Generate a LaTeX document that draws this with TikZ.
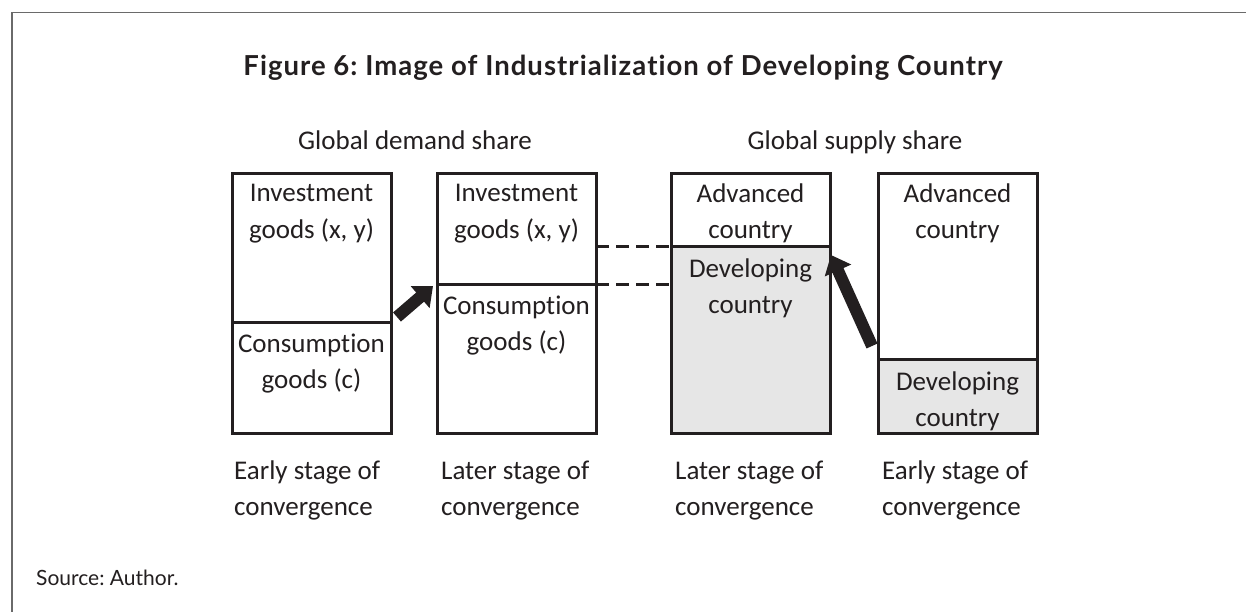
\documentclass[tikz,border=0pt]{standalone}
\usepackage{fontspec}
\setmainfont{Carlito}[Ligatures=NoCommon]
\newfontfamily\latofont{Lato}[Ligatures=NoCommon]
\frenchspacing
\usetikzlibrary{arrows.meta,calc}
\definecolor{ink}{HTML}{231F20}
\definecolor{shade}{HTML}{E6E6E6}
\definecolor{framegray}{HTML}{6A6A6A}
\begin{document}
\begin{tikzpicture}[x=1pt,y=-1pt,
  sect/.style={draw=ink,line width=3pt,rectangle,inner sep=0pt,outer sep=0pt,anchor=north west,minimum width=159pt},
  lbl/.style={anchor=base,align=center,inner sep=0pt,font=\fontsize{27}{36}\selectfont,text=ink},
  head/.style={anchor=base,inner sep=0pt,font=\fontsize{27}{36}\selectfont,text=ink},
  stage/.style={anchor=base west,align=left,inner sep=0pt,font=\fontsize{27}{36}\selectfont,text=ink},
  dashlink/.style={draw=ink,line width=3pt,dash pattern=on 13pt off 7pt},
  blockarrow/.style={draw=ink,line width=12pt,-{Triangle[length=17pt,width=28pt]}},
]
\useasboundingbox (0,0) rectangle (1246,612);
\fill[white] (0,0) rectangle (1246,612);
\draw[framegray,line width=1.6pt] (12,612) -- (12,12.5) -- (1246,12.5);

\node[anchor=base,inner sep=0pt,font=\latofont\bfseries\fontsize{27.5}{30}\selectfont\addfontfeature{LetterSpace=3.8},text=ink] (title) at (623,76) {Figure 6: Image of Industrialization of Developing Country};

\node[head] (dem) at (415,150) {Global demand share};
\node[head] (sup) at (855,150) {Global supply share};

% box 1
\node[sect,minimum height=148pt] (b1top) at (232,174) {};
\node[sect,minimum height=111pt] (b1bot) at (232,322) {};
% box 2
\node[sect,minimum height=110pt] (b2top) at (437,174) {};
\node[sect,minimum height=149pt] (b2bot) at (437,284) {};
% box 3
\node[sect,minimum height=72pt] (b3top) at (671,174) {};
\node[sect,fill=shade,minimum height=187pt] (b3bot) at (671,246) {};
% box 4
\node[sect,minimum height=185pt] (b4top) at (878,174) {};
\node[sect,fill=shade,minimum height=74pt] (b4bot) at (878,359) {};

% labels (base = baseline of the second line)
\node[lbl] (t1a) at ($(b1top.north)+(0,64)$) {Investment\\goods (x, y)};
\node[lbl] (t1b) at ($(b1bot.north)+(0,66)$) {Consumption\\goods (c)};
\node[lbl] (t2a) at ($(b2top.north)+(0,64)$) {Investment\\goods (x, y)};
\node[lbl] (t2b) at ($(b2bot.north)+(0,66)$) {Consumption\\goods (c)};
\node[lbl] (t3a) at ($(b3top.north)+(0,65)$) {Advanced\\country};
\node[lbl] (t3b) at ($(b3bot.north)+(0,67)$) {Developing\\country};
\node[lbl] (t4a) at ($(b4top.north)+(0,65)$) {Advanced\\country};
\node[lbl] (t4b) at ($(b4bot.north)+(0,67)$) {Developing\\country};

% dashed links
\draw[dashlink] (b2top.east |- b3bot.north west) -- (b3bot.north west);
\draw[dashlink] (b2bot.north east) -- (b3bot.west |- b2bot.north east);

% block arrows
\draw[blockarrow] ($(b1bot.north east)+(6,-5)$) -- ($(b2bot.north west)+(-4,2)$);
\draw[blockarrow] ($(b4bot.north west)+(-6,-13)$) -- ($(b3bot.north east)+(1,9)$);

% stage labels
\node[stage] (s1) at (234,515) {Early stage of\\convergence};
\node[stage] (s2) at (441,515) {Later stage of\\convergence};
\node[stage] (s3) at (675,515) {Later stage of\\convergence};
\node[stage] (s4) at (882,515) {Early stage of\\convergence};

\node[anchor=base west,inner sep=0pt,font=\latofont\fontsize{21}{24}\selectfont,text=ink] (src) at (36,585) {Source: Author.};
\end{tikzpicture}
\end{document}
